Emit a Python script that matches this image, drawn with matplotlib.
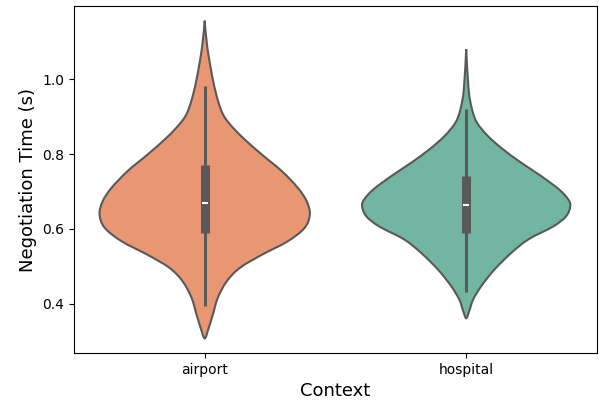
import numpy as np
import matplotlib
matplotlib.use("Agg")
import matplotlib.pyplot as plt
from matplotlib.path import Path
from matplotlib.patches import PathPatch

contexts = ["airport", "hospital"]

# violin outline: time value and half-width (max 0.4)
airport_y = [1.156, 1.085, 0.996, 0.942, 0.906, 0.880, 0.844, 0.799, 0.755,
             0.710, 0.674, 0.639, 0.603, 0.567, 0.531, 0.496, 0.460, 0.416,
             0.371, 0.335, 0.308]
airport_w = [0.0, 0.010, 0.032, 0.051, 0.070, 0.096, 0.145, 0.218, 0.294,
             0.356, 0.390, 0.402, 0.382, 0.317, 0.218, 0.134, 0.084, 0.050,
             0.031, 0.015, 0.0]
hospital_y = [1.080, 0.973, 0.920, 0.884, 0.848, 0.813, 0.777, 0.741, 0.705,
              0.679, 0.661, 0.634, 0.607, 0.572, 0.536, 0.491, 0.447, 0.411,
              0.384, 0.362]
hospital_w = [0.0, 0.009, 0.022, 0.041, 0.083, 0.140, 0.210, 0.287, 0.356,
              0.390, 0.398, 0.382, 0.333, 0.237, 0.172, 0.107, 0.057, 0.026,
              0.013, 0.0]

# inner box: q1, median, q3, whisker low, whisker high
q1 = [0.588, 0.588]
medians = [0.670, 0.663]
q3 = [0.772, 0.741]
whisk_lo = [0.395, 0.433]
whisk_hi = [0.982, 0.920]

colors = ["#e99673", "#72b6a1"]
edge = "#595959"


def smooth_path(pts):
    # Catmull-Rom through the points, written as cubic bezier segments
    pts = np.asarray(pts, dtype=float)
    verts = [pts[0]]
    codes = [Path.MOVETO]
    n = len(pts)
    for i in range(n - 1):
        p0 = pts[i - 1] if i > 0 else pts[i]
        p1 = pts[i]
        p2 = pts[i + 1]
        p3 = pts[i + 2] if i + 2 < n else pts[i + 1]
        c1 = p1 + (p2 - p0) / 6
        c2 = p2 - (p3 - p1) / 6
        verts += [c1, c2, p2]
        codes += [Path.CURVE4] * 3
    codes.append(Path.CLOSEPOLY)
    verts.append(pts[0])
    return Path(verts, codes)


fig = plt.figure(figsize=(6.01, 4.03), dpi=100)
ax = fig.add_subplot(111)
fig.subplots_adjust(left=0.123, right=0.9933, bottom=0.124, top=0.985)

profiles = [(airport_y, airport_w), (hospital_y, hospital_w)]
for i, (ys, ws) in enumerate(profiles):
    ys = np.array(ys)
    ws = np.array(ws)
    right = np.column_stack([i + ws, ys])
    left = np.column_stack([i - ws[::-1], ys[::-1]])
    outline = np.vstack([right, left[1:]])
    patch = PathPatch(smooth_path(outline), facecolor=colors[i],
                      edgecolor=edge, linewidth=1.5, zorder=2)
    ax.add_patch(patch)

    ax.plot([i, i], [whisk_lo[i], whisk_hi[i]], color=edge, lw=2.2,
            solid_capstyle="butt", zorder=3)
    ax.plot([i, i], [q1[i], q3[i]], color=edge, lw=6.5,
            solid_capstyle="butt", zorder=3)
    ax.plot([i - 0.012, i + 0.012], [medians[i], medians[i]], color="white",
            lw=1.5, solid_capstyle="butt", zorder=4)

ax.set_xlim(-0.5, 1.5)
ax.set_ylim(0.269, 1.195)
ax.set_xticks(range(len(contexts)))
ax.set_xticklabels(contexts)
ax.set_yticks([0.4, 0.6, 0.8, 1.0])
ax.set_xlabel("Context", fontsize=13)
ax.set_ylabel("Negotiation Time (s)", fontsize=13)

plt.savefig("out.png", dpi=100)
